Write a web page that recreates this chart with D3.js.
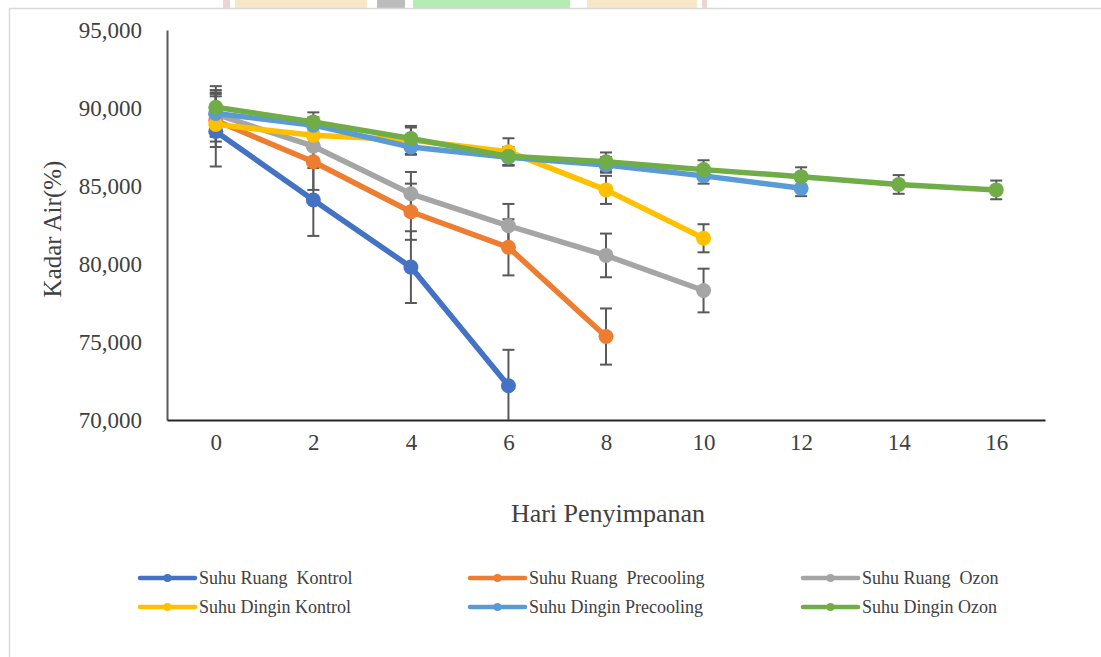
<!DOCTYPE html>
<html>
<head>
<meta charset="utf-8">
<script src="https://cdn.jsdelivr.net/npm/d3@7"></script>
<style>
  body { margin: 0; background: #fff; }
  text { font-family: "Liberation Serif", "Times New Roman", serif; fill: #404040; }
</style>
</head>
<body>
<div id="chart"></div>
<script>
// days on the x axis (category axis)
var days = ["0", "2", "4", "6", "8", "10", "12", "14", "16"];
var yTicks = [70, 75, 80, 85, 90, 95];
var yTickLabels = ["70,000", "75,000", "80,000", "85,000", "90,000", "95,000"];

// series values
var ruangKontrol = [88.5, 84.1, 79.8, 72.2];
var ruangKontrolErr = [2.25, 2.3, 2.3, 2.3];
var ruangPrecooling = [89.2, 86.55, 83.35, 81.07, 75.35];
var ruangPrecoolingErr = [1.7, 1.8, 1.8, 1.8, 1.8];
var ruangOzon = [89.6, 87.55, 84.5, 82.45, 80.55, 78.3];
var ruangOzonErr = [1.4, 1.4, 1.4, 1.4, 1.4, 1.4];
var dinginKontrol = [88.95, 88.25, 87.95, 87.2, 84.75, 81.65];
var dinginKontrolErr = [1.1, 0.9, 0.9, 0.86, 0.9, 0.9];
var dinginPrecooling = [89.65, 88.9, 87.5, 86.85, 86.35, 85.65, 84.85];
var dinginPrecoolingErr = [1.5, 0.5, 0.5, 0.5, 0.5, 0.5, 0.5];
var dinginOzon = [90.05, 89.1, 88.05, 86.9, 86.55, 86.05, 85.6, 85.1, 84.75];
var dinginOzonErr = [1.35, 0.62, 0.7, 0.6, 0.6, 0.6, 0.6, 0.6, 0.6];

var seriesNames = ["Suhu Ruang  Kontrol", "Suhu Ruang  Precooling", "Suhu Ruang  Ozon",
                   "Suhu Dingin Kontrol", "Suhu Dingin Precooling", "Suhu Dingin Ozon"];
var seriesColors = ["#4472C4", "#ED7D31", "#A5A5A5", "#FFC000", "#5B9BD5", "#70AD47"];

var series = [
  {name: seriesNames[0], color: seriesColors[0], values: ruangKontrol, err: ruangKontrolErr},
  {name: seriesNames[1], color: seriesColors[1], values: ruangPrecooling, err: ruangPrecoolingErr},
  {name: seriesNames[2], color: seriesColors[2], values: ruangOzon, err: ruangOzonErr},
  {name: seriesNames[3], color: seriesColors[3], values: dinginKontrol, err: dinginKontrolErr},
  {name: seriesNames[4], color: seriesColors[4], values: dinginPrecooling, err: dinginPrecoolingErr},
  {name: seriesNames[5], color: seriesColors[5], values: dinginOzon, err: dinginOzonErr}
];

var w = 1101, h = 657;
var svg = d3.select("#chart").append("svg")
  .attr("width", w)
  .attr("height", h);

// faint strip of the background logo above the frame
var strip = [[223, 7, "#e6cccc"], [235, 132, "#f6e3bd"], [377, 28, "#b0b0b0"],
             [413, 157, "#a6eaa6"], [587, 110, "#f6e3bd"], [702, 5, "#e6cccc"]];
strip.forEach(function(s) {
  svg.append("rect").attr("x", s[0]).attr("y", 0).attr("width", s[1]).attr("height", 8)
    .attr("fill", s[2]).attr("opacity", 0.85);
});

// chart frame
svg.append("line").attr("x1", 9).attr("x2", w).attr("y1", 8.5).attr("y2", 8.5)
  .attr("stroke", "#d9d9d9").attr("stroke-width", 1.5);
svg.append("line").attr("x1", 9.5).attr("x2", 9.5).attr("y1", 8).attr("y2", h)
  .attr("stroke", "#d9d9d9").attr("stroke-width", 1.5);

var x = d3.scalePoint().domain(days).range([167, 1045]).padding(0.5);
var y = d3.scaleLinear().domain([70, 95]).range([420, 30]);

// axes
var yAxis = svg.append("g").attr("transform", "translate(167,0)")
  .call(d3.axisLeft(y).tickValues(yTicks).tickSize(0).tickPadding(25)
    .tickFormat(function(d, i) { return yTickLabels[i]; }));
yAxis.select(".domain").attr("stroke", "#595959").attr("stroke-width", 2);
yAxis.selectAll("text").style("font-size", "23px").attr("fill", "#404040")
  .style("font-family", "Liberation Serif");

var xAxis = svg.append("g").attr("transform", "translate(0,420)")
  .call(d3.axisBottom(x).tickSize(0).tickPadding(14));
xAxis.select(".domain").attr("stroke", "#262626").attr("stroke-width", 2);
xAxis.selectAll("text").style("font-size", "23px").attr("fill", "#404040")
  .style("font-family", "Liberation Serif");

// axis titles
svg.append("text").attr("x", 608).attr("y", 522).attr("text-anchor", "middle")
  .style("font-size", "26px").text("Hari Penyimpanan");
svg.append("text").attr("transform", "translate(61,229) rotate(-90)").attr("text-anchor", "middle")
  .style("font-size", "25px").text("Kadar Air(%)");

var line = d3.line()
  .x(function(d, i) { return x(days[i]); })
  .y(function(d) { return y(d); });

// error bars, drawn under the lines
var plot = svg.append("g");
series.forEach(function(s) {
  var g = plot.append("g");
  s.values.forEach(function(v, i) {
    var cx = x(days[i]);
    var top = y(v + s.err[i]), bottom = Math.min(y(v - s.err[i]), 420);
    g.append("line").attr("x1", cx).attr("x2", cx).attr("y1", top).attr("y2", bottom)
      .attr("stroke", "#595959").attr("stroke-width", 2);
    g.append("line").attr("x1", cx - 6).attr("x2", cx + 6).attr("y1", top).attr("y2", top)
      .attr("stroke", "#595959").attr("stroke-width", 2);
    if (y(v - s.err[i]) <= 420) {
      g.append("line").attr("x1", cx - 6).attr("x2", cx + 6).attr("y1", bottom).attr("y2", bottom)
        .attr("stroke", "#595959").attr("stroke-width", 2);
    }
  });
});

// lines and markers
series.forEach(function(s) {
  plot.append("path").datum(s.values)
    .attr("d", line)
    .attr("fill", "none")
    .attr("stroke", s.color)
    .attr("stroke-width", 5.5)
    .attr("stroke-linejoin", "round");
  plot.selectAll(null).data(s.values).enter().append("circle")
    .attr("cx", function(d, i) { return x(days[i]); })
    .attr("cy", function(d) { return y(d); })
    .attr("r", 7.5)
    .attr("fill", s.color);
});

// legend, 3 columns x 2 rows
var legX = [140, 470, 803], legY = [578, 607];
series.forEach(function(s, i) {
  var lx = legX[i % 3], ly = legY[Math.floor(i / 3)];
  var g = svg.append("g").attr("transform", "translate(" + lx + "," + ly + ")");
  g.append("line").attr("x1", 0).attr("x2", 55).attr("y1", 0).attr("y2", 0)
    .attr("stroke", s.color).attr("stroke-width", 4.5).attr("stroke-linecap", "round");
  g.append("circle").attr("cx", 27.5).attr("cy", 0).attr("r", 4).attr("fill", s.color);
  g.append("text").attr("x", 59).attr("y", 6)
    .style("font-size", "18px").style("white-space", "pre")
    .text(s.name);
});
</script>
</body>
</html>
